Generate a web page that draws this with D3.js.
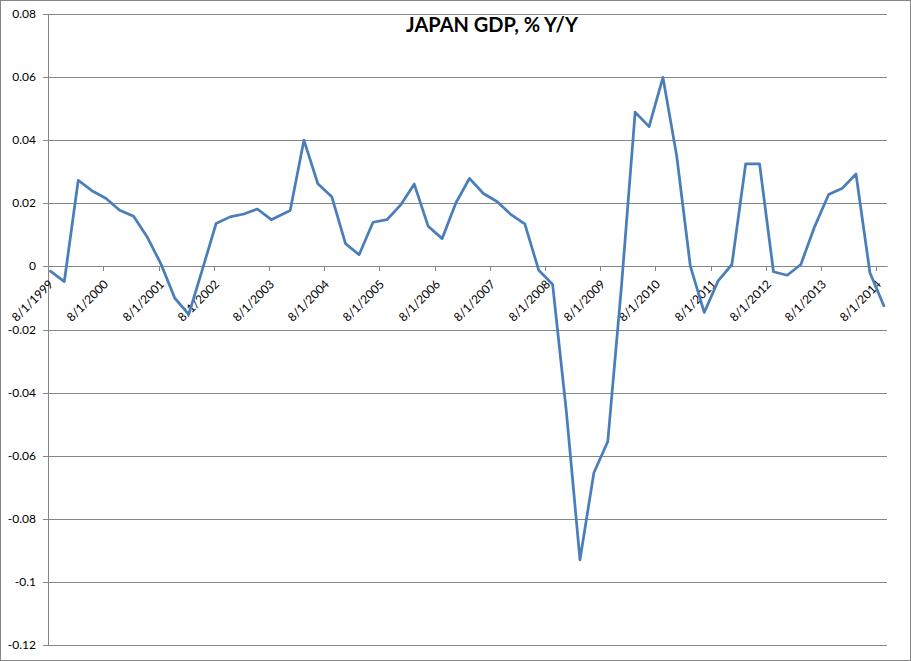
<!DOCTYPE html>
<html>
<head>
<meta charset="utf-8">
<script src="https://cdnjs.cloudflare.com/ajax/libs/d3/7.8.5/d3.min.js"></script>
<style>
  body { margin: 0; background: #fff; }
</style>
</head>
<body>
<svg width="911" height="661"></svg>
<script>
var dates = [
  "8/17/1999", "11/17/1999", "2/17/2000", "5/17/2000", "8/17/2000", "11/17/2000",
  "2/17/2001", "5/17/2001", "8/17/2001", "11/17/2001", "2/17/2002", "5/17/2002",
  "8/17/2002", "11/17/2002", "2/17/2003", "5/17/2003", "8/17/2003",
  "12/20/2003", "3/20/2004", "6/20/2004", "9/20/2004", "12/20/2004",
  "3/20/2005", "6/20/2005", "9/20/2005", "12/20/2005",
  "3/20/2006", "6/20/2006", "9/20/2006", "12/20/2006",
  "3/20/2007", "6/20/2007", "9/20/2007", "12/20/2007",
  "3/20/2008", "6/20/2008", "9/20/2008", "12/20/2008",
  "3/20/2009", "6/20/2009", "9/20/2009", "12/20/2009",
  "3/20/2010", "6/20/2010", "9/20/2010", "12/20/2010",
  "3/20/2011", "6/20/2011", "9/20/2011", "12/20/2011",
  "3/20/2012", "6/20/2012", "9/20/2012", "12/20/2012",
  "3/20/2013", "6/20/2013", "9/20/2013", "12/20/2013",
  "3/20/2014", "6/20/2014", "9/20/2014"
];

var gdp = [
  -0.0015, -0.0048, 0.0273, 0.0240, 0.0216, 0.0178,
  0.0159, 0.0094, 0.0008, -0.0101, -0.0152, -0.0012,
  0.0136, 0.0157, 0.0166, 0.0182, 0.0148,
  0.0177, 0.0400, 0.0262, 0.0221, 0.0072,
  0.0037, 0.0140, 0.0148, 0.0195,
  0.0261, 0.0127, 0.0088, 0.0201,
  0.0279, 0.0231, 0.0205, 0.0164,
  0.0135, -0.0012, -0.0057, -0.0460,
  -0.0930, -0.0654, -0.0555, -0.0060,
  0.0489, 0.0443, 0.0599, 0.0350,
  0.0001, -0.0146, -0.0046, 0.0006,
  0.0325, 0.0325, -0.0017, -0.0028,
  0.0006, 0.0127, 0.0228, 0.0248,
  0.0293, -0.0020, -0.0125
];

var yTicks = [0.08, 0.06, 0.04, 0.02, 0, -0.02, -0.04, -0.06, -0.08, -0.1, -0.12];

var xTickLabels = ["8/1/1999", "8/1/2000", "8/1/2001", "8/1/2002", "8/1/2003",
  "8/1/2004", "8/1/2005", "8/1/2006", "8/1/2007", "8/1/2008", "8/1/2009",
  "8/1/2010", "8/1/2011", "8/1/2012", "8/1/2013", "8/1/2014"];

var title = "JAPAN GDP, % Y/Y";

var svg = d3.select("svg"),
    width = +svg.attr("width"),
    height = +svg.attr("height");

var parse = d3.timeParse("%m/%d/%Y");
var gray = "#868686";

var data = dates.map(function(d, i) { return {date: parse(d), v: gdp[i]}; });

var x = d3.scaleTime()
    .domain([parse("8/1/1999"), parse("10/11/2014")])
    .range([48, 887]);
var y = d3.scaleLinear()
    .domain([-0.12, 0.08])
    .range([645, 14]);

// rounded copies so axis and grid lines land on whole pixels
var xr = x.copy().interpolate(d3.interpolateRound);
var yr = y.copy().interpolate(d3.interpolateRound);

// chart border
svg.append("rect")
    .attr("x", 0.5).attr("y", 0.5)
    .attr("width", width - 1).attr("height", height - 1)
    .attr("fill", "#fff")
    .attr("stroke", gray);

// horizontal gridlines
svg.append("g")
    .attr("class", "grid")
  .selectAll("line")
  .data(yTicks)
  .enter().append("line")
    .attr("x1", 48).attr("x2", 887)
    .attr("y1", function(d) { return yr(d) + 0.5; })
    .attr("y2", function(d) { return yr(d) + 0.5; })
    .attr("stroke", gray);

var yAxis = svg.append("g")
    .attr("transform", "translate(48,0)")
    .call(d3.axisLeft(yr)
      .tickValues(yTicks)
      .tickSize(5)
      .tickSizeOuter(0)
      .tickPadding(7)
      .tickFormat(function(d) { return String(+d.toFixed(2)); }));

var xAxis = svg.append("g")
    .attr("transform", "translate(0," + yr(0) + ")")
    .call(d3.axisBottom(xr)
      .tickValues(xTickLabels.map(parse))
      .tickSize(5)
      .tickSizeOuter(0)
      .tickFormat(function(d, i) { return xTickLabels[i]; }));

[yAxis, xAxis].forEach(function(g) {
  g.attr("font-family", "Lato, 'Open Sans', sans-serif")
   .attr("font-size", 12);
  g.selectAll("line, path").attr("stroke", gray);
  g.selectAll("text").attr("fill", "#000");
});

xAxis.selectAll("text")
    .attr("x", null)
    .attr("y", null)
    .attr("dy", null)
    .attr("text-anchor", "end")
    .attr("transform", "translate(5.5,19) rotate(-45)");

svg.append("text")
    .attr("x", 492)
    .attr("y", 32)
    .attr("text-anchor", "middle")
    .attr("font-family", "Lato, 'Open Sans', sans-serif")
    .attr("font-weight", "bold")
    .attr("font-size", 20)
    .attr("fill", "#000")
    .text(title);

var line = d3.line()
    .x(function(d) { return x(d.date); })
    .y(function(d) { return y(d.v); });

svg.append("path")
    .datum(data)
    .attr("fill", "none")
    .attr("stroke", "#4a7ebb")
    .attr("stroke-width", 2.75)
    .attr("stroke-linejoin", "round")
    .attr("stroke-linecap", "round")
    .attr("d", line);
</script>
</body>
</html>
